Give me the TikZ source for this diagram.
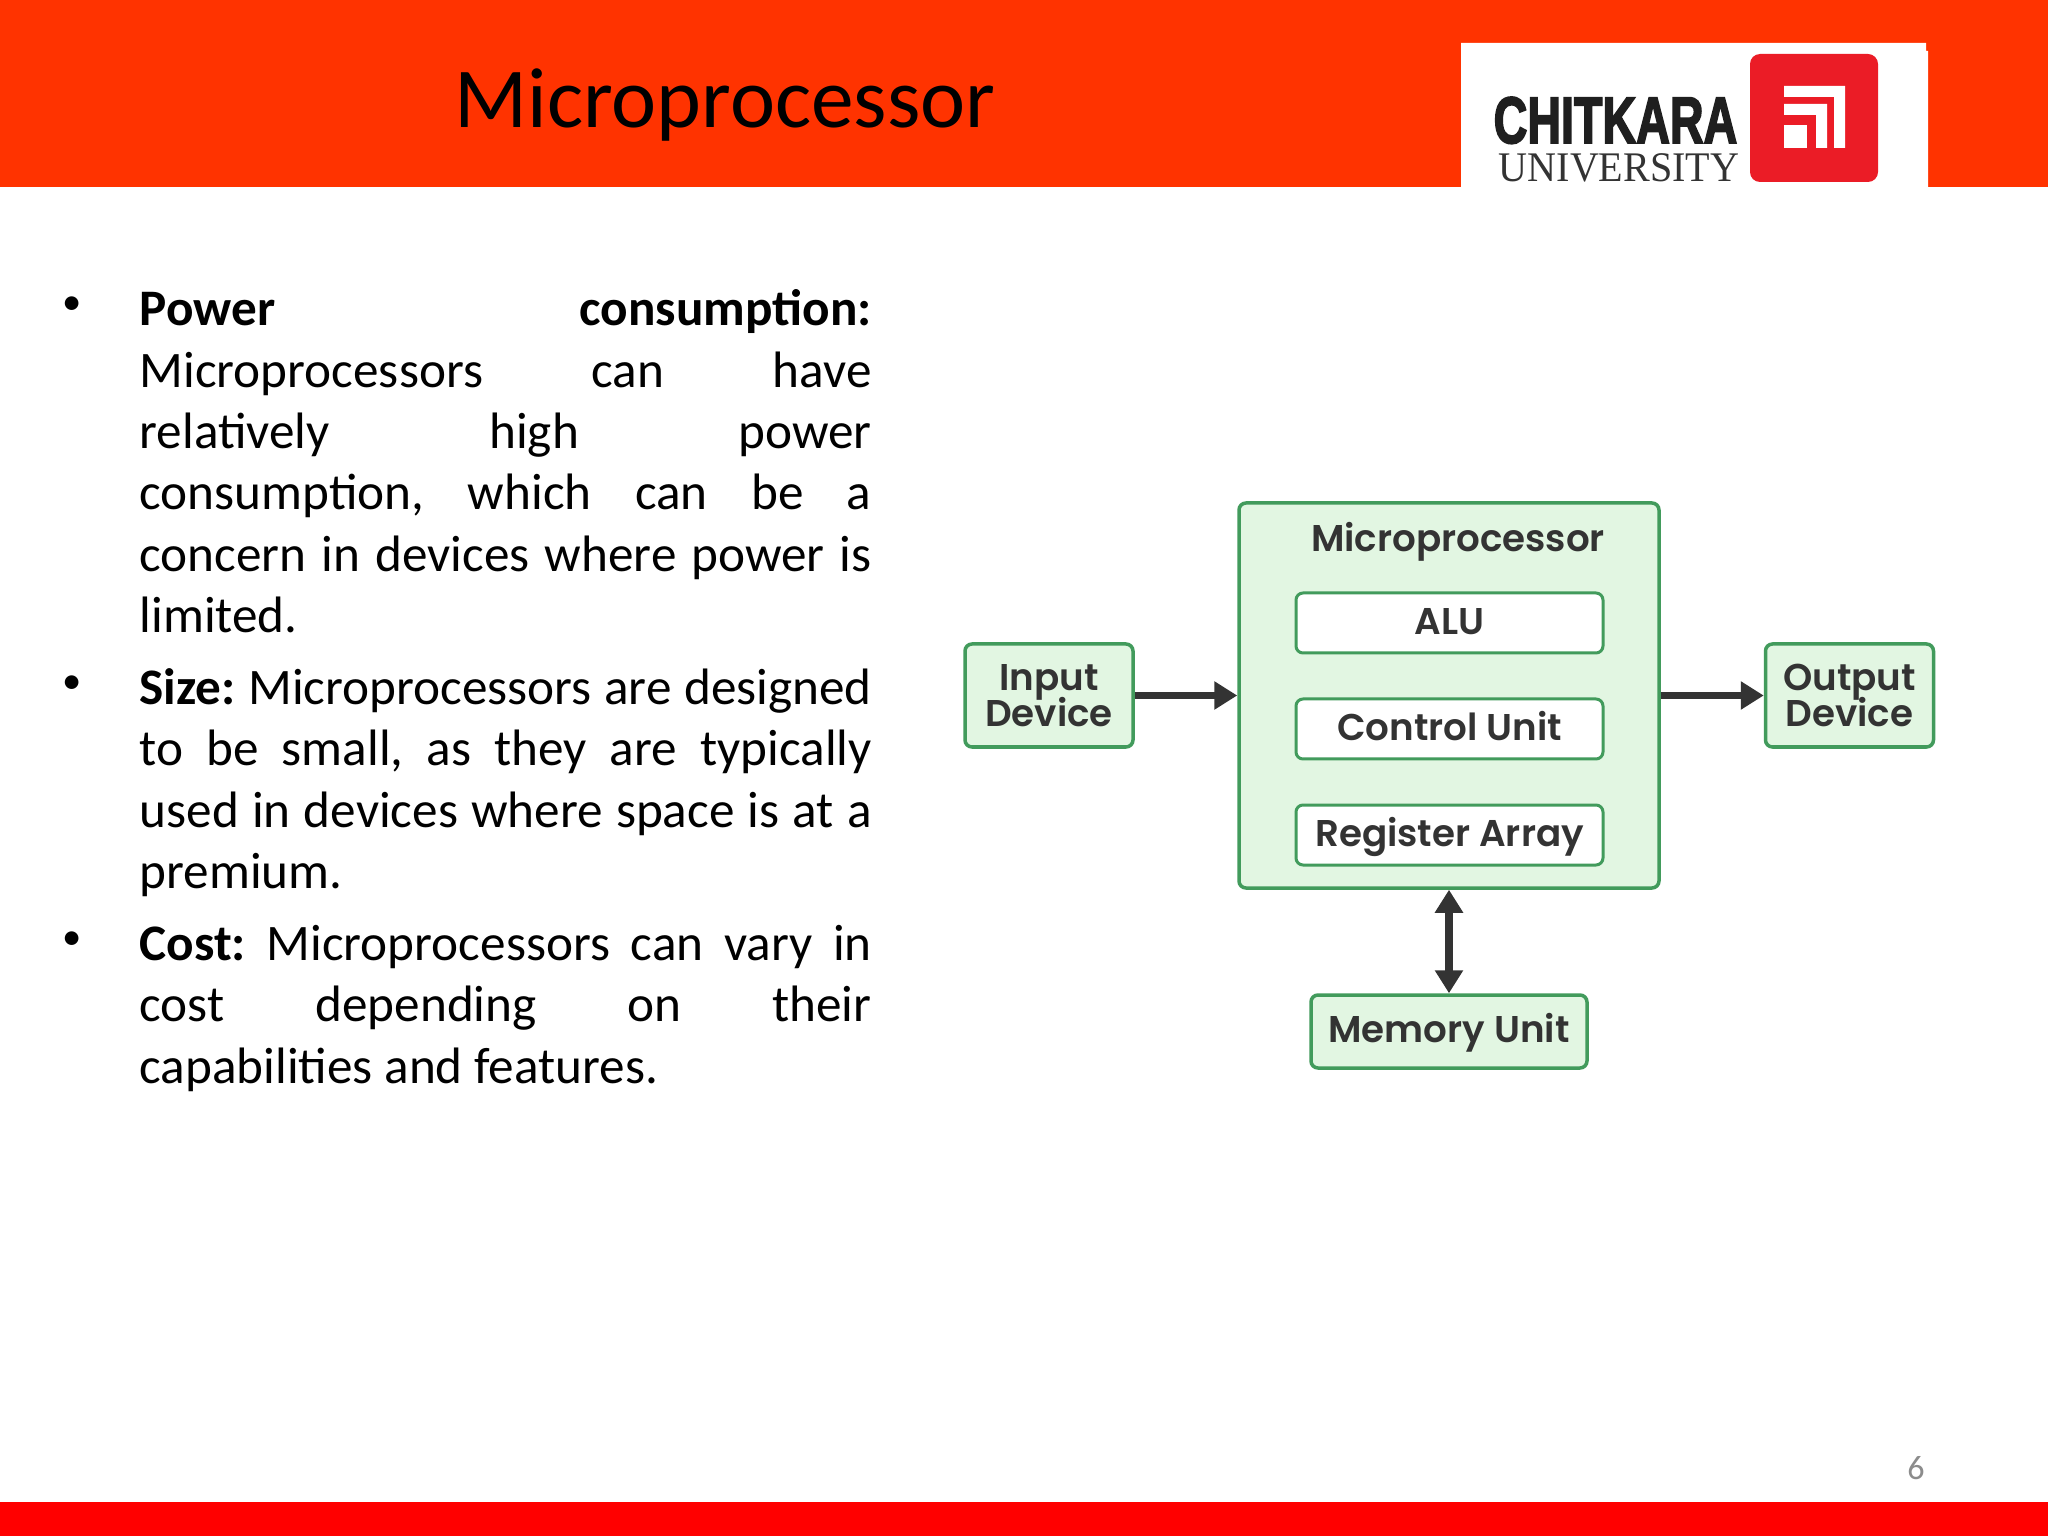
\documentclass[tikz,border=0pt]{standalone}
\usepackage{fontspec}
\setmainfont{Carlito}
\newfontfamily\diagfont[BoldFont={Poppins SemiBold}]{Poppins}
\newfontfamily\logofont[BoldFeatures={FakeBold=3}]{Liberation Sans}
\newfontfamily\logoserif{Liberation Serif}
\usepackage{tikz}
\usetikzlibrary{positioning}
\usetikzlibrary{arrows.meta}
\definecolor{headred}{HTML}{FF3300}
\definecolor{footred}{HTML}{FF0000}
\definecolor{logored}{HTML}{EB1C26}
\definecolor{boxfill}{HTML}{E2F6E2}
\definecolor{boxline}{HTML}{429B5C}
\definecolor{inktext}{HTML}{333333}
\tikzset{
  greenbox/.style={draw=boxline,fill=boxfill,line width=0.035cm,rounded corners=0.07cm,
    inner sep=0pt,align=center,text=inktext,font=\diagfont\bfseries\fontsize{10.6}{10.2}\selectfont},
  unitbox/.style={greenbox,fill=white,line width=0.03cm,minimum width=3.07cm,minimum height=0.60cm,
    text height=7.4pt,text depth=1pt},
  devicebox/.style={greenbox,minimum width=1.68cm,minimum height=1.03cm},
  flowline/.style={draw=inktext,line width=0.075cm,-{Triangle[length=0.23cm,width=0.27cm]}},
  bothline/.style={draw=inktext,line width=0.075cm,{Triangle[length=0.23cm,width=0.27cm]}-{Triangle[length=0.23cm,width=0.27cm]}},
  bodytxt/.style={anchor=north west,inner sep=0pt,text width=7.32cm,align=justify,
    font=\fontsize{14.57}{17.47}\selectfont},
  bulletmark/.style={inner sep=0pt,font=\fontsize{11}{13}\selectfont},
}
\tolerance=10000
\frenchspacing
\begin{document}
\begin{tikzpicture}
  \useasboundingbox (0,0) rectangle (20.48,-15.36);
  \fill[white] (0,0) rectangle (20.48,-15.36);
  \fill[headred] (0,0) rectangle (20.48,-1.87);
  \fill[footred] (0,-15.02) rectangle (20.48,-15.36);
  \node[inner sep=0pt,anchor=base,font=\fontsize{24.3}{29}\selectfont] (title) at (7.25,-1.28) {Microprocessor};
  % logo
  \fill[white] (14.61,-0.43) -- (19.26,-0.43) -- (19.26,-0.51) -- (19.28,-0.51) -- (19.28,-1.87) -- (14.61,-1.87) -- cycle;
  \fill[logored,rounded corners=0.1cm] (17.50,-0.54) rectangle (18.78,-1.82);
  \fill[white] (17.84,-0.86) -- (18.45,-0.86) -- (18.45,-1.48) -- (18.34,-1.48) -- (18.34,-0.97) -- (17.84,-0.97) -- cycle;
  \fill[white] (17.84,-1.04) -- (18.27,-1.04) -- (18.27,-1.48) -- (18.16,-1.48) -- (18.16,-1.15) -- (17.84,-1.15) -- cycle;
  \fill[white] (17.84,-1.25) rectangle (18.07,-1.48);
  \node[inner sep=0pt,anchor=base,xscale=0.71,text depth=0pt,text=black!88,font=\logofont\bfseries\fontsize{18.7}{20}\selectfont] (chitkara) at (16.155,-1.43) {CHITKARA};
  \node[inner sep=0pt,anchor=base,xscale=0.95,text height=0.29cm,text=black!80,font=\logoserif\fontsize{12}{14}\selectfont] (university) at (16.19,-1.82) {UNIVERSITY};
  % text column
  \node[bodytxt] (power) at (1.39,-2.82) {\strut\textbf{Power consumption:}\linebreak Microprocessors can have\linebreak relatively high power\linebreak consumption, which can be a\linebreak concern in devices where power is\linebreak limited.\strut};
  \node[bodytxt,below=0.09cm of power.south west,anchor=north west] (size) {\strut\textbf{Size:} Microprocessors are designed\linebreak to be small, as they are typically\linebreak used in devices where space is at a\linebreak premium.\strut};
  \node[bodytxt,below=0.09cm of size.south west,anchor=north west] (cost) {\strut\textbf{Cost:} Microprocessors can vary in\linebreak cost depending on their\linebreak capabilities and features.\strut};
  \node[bulletmark] (mark1) at (0.72,-3.06) {•};
  \node[bulletmark] (mark2) at (0.72,-6.85) {•};
  \node[bulletmark] (mark3) at (0.72,-9.41) {•};
  % diagram
  \node[greenbox,minimum width=4.20cm,minimum height=3.85cm] (cpu) at (14.49,-6.955) {};
  \node[inner sep=0pt,text=inktext,font=\diagfont\bfseries\fontsize{10.6}{10.2}\selectfont] (cputitle) at (14.58,-5.42) {Microprocessor};
  \node[unitbox] (alu) at (14.495,-6.23) {ALU};
  \node[unitbox] (ctrl) at (14.495,-7.29) {Control Unit};
  \node[unitbox] (reg) at (14.495,-8.35) {Register Array};
  \node[devicebox] (input) at (10.49,-6.955) {Input\\[-0.065cm]Device};
  \node[devicebox] (output) at (18.495,-6.955) {Output\\[-0.065cm]Device};
  \node[greenbox,minimum width=2.76cm,minimum height=0.73cm,text height=7.4pt,text depth=1pt] (memory) at (14.49,-10.315) {Memory Unit};
  \draw[flowline] (input) -- (cpu);
  \draw[flowline] (cpu) -- (output);
  \draw[bothline] (cpu) -- (memory);
  \node[inner sep=0pt,text=black!45,font=\fontsize{9.7}{11}\selectfont] (pagenum) at (19.16,-14.68) {6};
\end{tikzpicture}
\end{document}
